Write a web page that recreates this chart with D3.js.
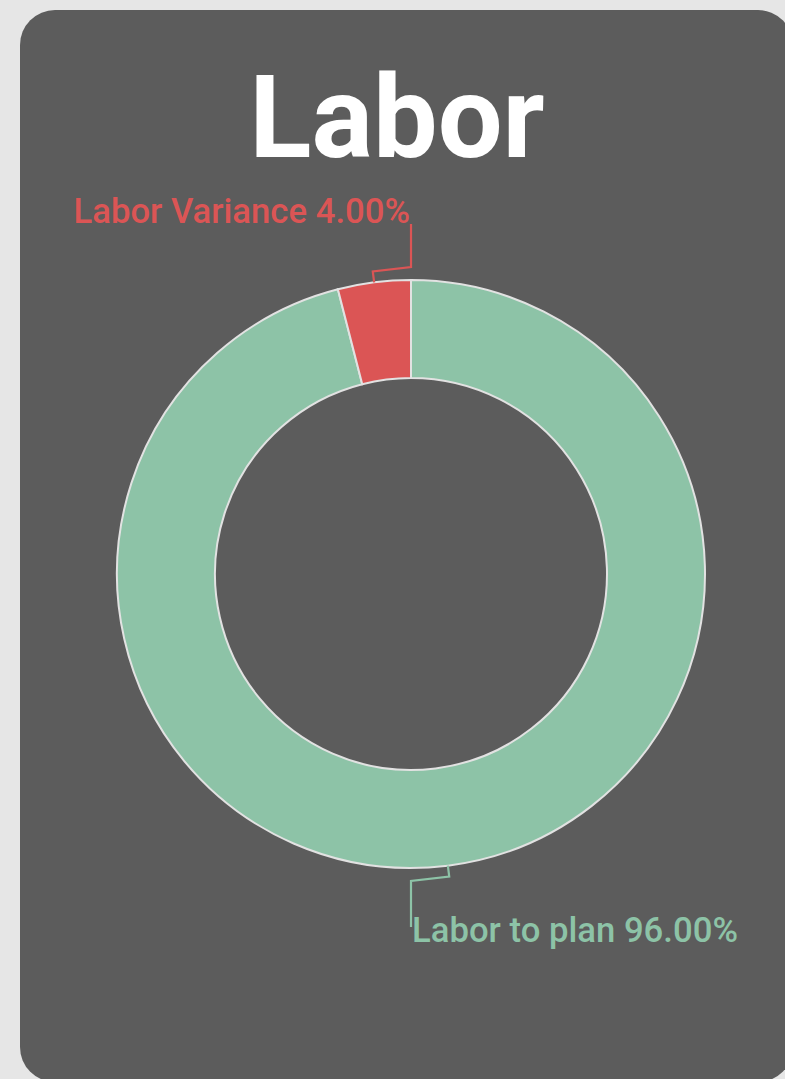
<!DOCTYPE html>
<html>
<head>
<meta charset="utf-8">
<script src="https://cdn.jsdelivr.net/npm/d3@7"></script>
<style>
  html, body { margin: 0; padding: 0; background: #e6e6e6; overflow: hidden; }
  svg { display: block; font-family: Roboto, sans-serif; }
</style>
</head>
<body>
<div id="donut"></div>
<script>
const title = "Labor";
const categories = ["Labor to plan", "Labor Variance"];
const values = [96, 4];
const colors = ["#8dc3a7", "#db5555"];

const width = 785;
const height = 1079;
const cx = 411, cy = 574;
const outerRadius = 294;
const innerRadius = 196;

const data = categories.map((c, i) => ({ label: c, value: values[i], color: colors[i] }));

const svg = d3.select("#donut").append("svg")
  .attr("width", width)
  .attr("height", height);

// card
svg.append("rect")
  .attr("x", 20)
  .attr("y", 10)
  .attr("width", 773)
  .attr("height", 1072)
  .attr("rx", 35)
  .attr("fill", "#5c5c5c");

svg.append("text")
  .attr("x", 397)
  .attr("y", 157)
  .attr("text-anchor", "middle")
  .attr("fill", "#ffffff")
  .attr("font-weight", 700)
  .attr("font-size", 115)
  .text(title);

const g = svg.append("g")
  .attr("transform", `translate(${cx}, ${cy})`);

const pie = d3.pie()
  .sort(null)
  .value(d => d.value);

const arc = d3.arc()
  .innerRadius(innerRadius)
  .outerRadius(outerRadius);

const arcs = pie(data);

g.selectAll("path.slice")
  .data(arcs)
  .join("path")
    .attr("class", "slice")
    .attr("d", arc)
    .attr("fill", d => d.data.color)
    .attr("stroke", "#e2e2e2")
    .attr("stroke-width", 2);

// leader lines: edge -> a bit outside -> top/bottom -> label
const pointAt = (angle, r) => [r * Math.sin(angle), -r * Math.cos(angle)];
const midAngle = d => (d.startAngle + d.endAngle) / 2;
const isTop = d => Math.cos(midAngle(d)) > 0;

g.selectAll("polyline")
  .data(arcs)
  .join("polyline")
    .attr("fill", "none")
    .attr("stroke", d => d.data.color)
    .attr("stroke-width", 2.2)
    .attr("points", d => {
      const a = midAngle(d);
      const axis = isTop(d) ? 0 : Math.PI;
      const p1 = pointAt(a, outerRadius);
      const p2 = pointAt(a, outerRadius + 11);
      const p3 = pointAt(axis, outerRadius + 13);
      const p4 = pointAt(axis, isTop(d) ? 350 : 353);
      return [p1, p2, p3, p4].map(p => p.join(",")).join(" ");
    });

g.selectAll("text.label")
  .data(arcs)
  .join("text")
    .attr("class", "label")
    .attr("x", d => isTop(d) ? -1 : 1)
    .attr("y", d => isTop(d) ? -351 : 368)
    .attr("text-anchor", d => isTop(d) ? "end" : "start")
    .attr("fill", d => d.data.color)
    .attr("font-size", 34.7)
    .attr("font-weight", 500)
    .text(d => `${d.data.label} ${d3.format(".2f")(d.value)}%`);
</script>
</body>
</html>
